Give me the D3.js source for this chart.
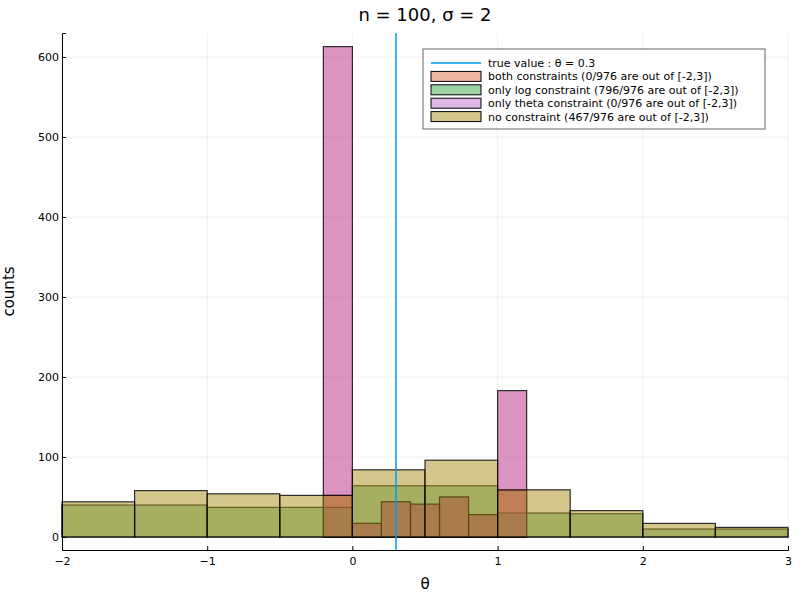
<!DOCTYPE html>
<html><head><meta charset="utf-8">
<script src="https://cdn.jsdelivr.net/npm/d3@7"></script>
<style>body{margin:0;background:#fff}text{font-family:"DejaVu Sans",sans-serif}</style>
</head><body><div id="chart"></div>
<script>
const names = ['both constraints (0/976 are out of [-2,3])','only log constraint (796/976 are out of [-2,3])','only theta constraint (0/976 are out of [-2,3])','no constraint (467/976 are out of [-2,3])'];
const colors = ['#e26f46','#3da44d','#c271d2','#ac8d18'];
const narrowEdges = [-0.2,0,0.2,0.4,0.6,0.8,1.0,1.2];
const bothCounts = [52,17,44,41,50,28,58];
const thetaCounts = [613,17,44,41,50,28,183];
const wideEdges = [-2,-1.5,-1,-0.5,0,0.5,1,1.5,2,2.5,3];
const logCounts = [40,40,37,37,64,64,30,29,10,10];
const noneCounts = [44,58,54,52,84,96,59,33,17,12];
const trueValue = 0.3;
const xTicks = [-2,-1,0,1,2,3];
const yTicks = [0,100,200,300,400,500,600];

const W=800,H=600,L=62,R=788,T=33,B=550;
const x=d3.scaleLinear().domain([-2,3]).range([L,R]);
const y=d3.scaleLinear().domain([-16.25,630]).range([B,T]);
const svg=d3.select('#chart').append('svg').attr('width',W).attr('height',H);

// grid
svg.append('g').selectAll('line').data(xTicks).join('line')
  .attr('x1',d=>x(d)).attr('x2',d=>x(d)).attr('y1',T).attr('y2',B).attr('stroke','#000').attr('stroke-opacity',0.06);
svg.append('g').selectAll('line').data(yTicks).join('line')
  .attr('y1',d=>y(d)).attr('y2',d=>y(d)).attr('x1',L).attr('x2',R).attr('stroke','#000').attr('stroke-opacity',0.06);

// pink in the picture is deeper than the palette colour at half alpha
const fills=['#e26f46','#3da44d','#b82a86','#ac8d18'];
const series=[[narrowEdges,bothCounts],[wideEdges,logCounts],[narrowEdges,thetaCounts],[wideEdges,noneCounts]];
series.forEach(([edges,counts],i)=>{
  svg.append('g').selectAll('rect').data(counts).join('rect')
    .attr('x',(d,j)=>x(edges[j])).attr('width',(d,j)=>x(edges[j+1])-x(edges[j]))
    .attr('y',d=>y(d)).attr('height',d=>y(0)-y(d))
    .attr('fill',fills[i]).attr('fill-opacity',0.5)
    .attr('stroke','#000').attr('stroke-opacity',0.8).attr('stroke-width',1.2);
});

svg.append('line').attr('x1',x(trueValue)).attr('x2',x(trueValue)).attr('y1',T).attr('y2',B)
  .attr('stroke','#009afa').attr('stroke-width',1.5);

// axes
const xa=svg.append('g').attr('transform',`translate(0,${B})`).call(d3.axisBottom(x).tickValues(xTicks).tickSize(-4).tickFormat(d=>d<0?'−'+(-d):d));
const ya=svg.append('g').attr('transform',`translate(${L},0)`).call(d3.axisLeft(y).tickValues(yTicks).tickSize(-4));
[xa,ya].forEach(a=>{a.select('.domain').attr('stroke','#000');a.selectAll('text').attr('font-size',11).style('font-family','DejaVu Sans');});
xa.selectAll('text').attr('dy','1.1em');
svg.append('text').attr('x',(L+R)/2).attr('y',589).attr('text-anchor','middle').attr('font-size',15).text('θ');
svg.append('text').attr('transform',`translate(14,${(T+B)/2}) rotate(-90)`).attr('text-anchor','middle').attr('font-size',15).text('counts');
svg.append('text').attr('x',(L+R)/2).attr('y',21).attr('text-anchor','middle').attr('font-size',18).text('n = 100, σ = 2');

// legend
const lg=svg.append('g').attr('transform','translate(423,49)');
lg.append('rect').attr('width',342).attr('height',80).attr('fill','#fff').attr('stroke','#000').attr('stroke-opacity',0.6);
lg.append('line').attr('x1',8).attr('x2',58).attr('y1',14).attr('y2',14).attr('stroke','#009afa').attr('stroke-width',1.5);
lg.append('text').attr('x',65).attr('y',18).attr('font-size',11).text('true value : θ = 0.3');
names.forEach((n,i)=>{
  const yy=14+(i+1)*13.4;
  lg.append('rect').attr('x',8).attr('y',yy-5).attr('width',50).attr('height',10)
    .attr('fill',colors[i]).attr('fill-opacity',0.5).attr('stroke','#000');
  lg.append('text').attr('x',65).attr('y',yy+4).attr('font-size',11).text(n);
});
</script></body></html>
